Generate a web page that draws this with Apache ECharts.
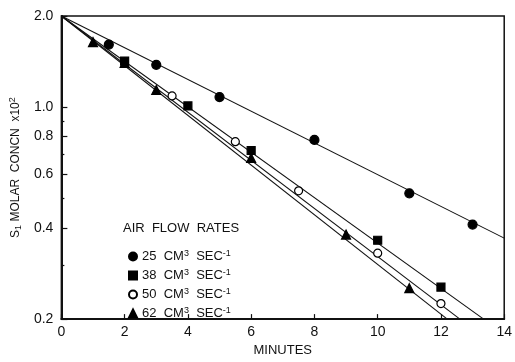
<!DOCTYPE html>
<html>
<head>
<meta charset="utf-8">
<script src="https://cdn.jsdelivr.net/npm/echarts@6.0.0/dist/echarts.min.js"></script>
<style>
  html, body { margin: 0; padding: 0; background: #fff; }
  #main { width: 515px; height: 362px; }
</style>
</head>
<body>
<div id="main"></div>
<script>
// air flow rates, cm3/sec
const rates = ['25', '38', '50', '62']

// measured points (minutes, molar concn x10^2)
const minutes25 = [1.5, 3, 5, 8, 11, 13]
const conc25 = [1.61, 1.38, 1.08, 0.78, 0.52, 0.41]
const minutes38 = [2, 4, 6, 10, 12]
const conc38 = [1.42, 1.01, 0.72, 0.364, 0.255]
const minutes50 = [3.5, 5.5, 7.5, 10, 12]
const conc50 = [1.09, 0.77, 0.53, 0.33, 0.225]
const minutes62 = [1, 2, 3, 6, 9, 11]
const conc62 = [1.64, 1.40, 1.14, 0.68, 0.38, 0.253]

// fitted lines, all start at t=0, c=2.0
const fitStart = [0, 2.0]
const fitEnd25 = [14, 0.37]
const fitEnd38 = [13.35, 0.2]
const fitEnd50 = [12.6, 0.2]
const fitEnd62 = [12.2, 0.2]

// axis ticks
const xTicks = [0, 2, 4, 6, 8, 10, 12, 14]
const yLabels = [0.2, 0.4, 0.6, 0.8, 1.0, 2.0]
const yMinorTicks = [0.3, 0.5, 0.7, 0.9]

const font = 'Liberation Sans'
const pairs = (xs, ys) => xs.map((x, i) => [x, ys[i]])

const markers = [
  {name: rates[0], x: minutes25, y: conc25, symbol: 'circle', size: 9, color: '#000', end: fitEnd25},
  {name: rates[1], x: minutes38, y: conc38, symbol: 'rect', size: 8, color: '#000', end: fitEnd38},
  {name: rates[2], x: minutes50, y: conc50, symbol: 'circle', size: 8, color: '#fff', end: fitEnd50},
  {name: rates[3], x: minutes62, y: conc62, symbol: 'triangle', size: 9, color: '#000', end: fitEnd62}
]

const series = []
markers.forEach(m => {
  series.push({
    type: 'line',
    data: [fitStart, m.end],
    symbol: 'none',
    silent: true,
    lineStyle: {color: '#111', width: 1.1},
    z: 2
  })
})
markers.forEach(m => {
  series.push({
    name: m.name,
    type: 'scatter',
    data: pairs(m.x, m.y),
    symbol: m.symbol,
    symbolSize: m.size,
    itemStyle: {color: m.color, borderColor: '#000', borderWidth: 1.2, opacity: 1},
    z: 3
  })
})

const chart = echarts.init(document.getElementById('main'))
chart.setOption({
  animation: false,
  backgroundColor: '#fff',
  textStyle: {fontFamily: font, color: '#111'},
  grid: {left: 61, right: 8, top: 16, bottom: 34, show: true, borderColor: '#111', borderWidth: 1.5},
  legend: {
    data: rates,
    orient: 'vertical',
    left: 123,
    top: 244,
    itemGap: 5,
    itemWidth: 8,
    itemHeight: 8,
    selectedMode: false,
    formatter: name => name + '  CM{sup|3}  SEC{sup|-1}',
    textStyle: {
      fontFamily: font, fontSize: 13, color: '#111',
      rich: {sup: {fontFamily: font, fontSize: 9, color: '#111', verticalAlign: 'top', padding: [0, 0, 6, 0]}}
    }
  },
  graphic: [{
    type: 'text',
    left: 123,
    top: 222,
    style: {text: 'AIR  FLOW  RATES', font: '13px "Liberation Sans"', fill: '#111'}
  }],
  xAxis: {
    type: 'value',
    min: 0,
    max: 14,
    interval: 2,
    name: 'MINUTES',
    nameLocation: 'middle',
    nameGap: 22,
    nameTextStyle: {fontFamily: font, fontSize: 13, color: '#111'},
    axisLine: {lineStyle: {color: '#111', width: 2}},
    axisTick: {inside: true, length: 5, lineStyle: {color: '#111', width: 1.2}, customValues: xTicks},
    axisLabel: {fontSize: 14, color: '#111', margin: 6, customValues: xTicks},
    splitLine: {show: false}
  },
  yAxis: [{
    type: 'log',
    logBase: 10,
    min: 0.2,
    max: 2.0,
    name: '{t|S}{sub|1}{t| MOLAR  CONCN  x10}{sup|2}',
    nameLocation: 'middle',
    nameRotate: 90,
    nameGap: 36,
    nameTextStyle: {
      fontFamily: font, fontSize: 12, color: '#111',
      rich: {
        t: {fontFamily: font, fontSize: 12, color: '#111'},
        sub: {fontFamily: font, fontSize: 9, color: '#111', verticalAlign: 'bottom', padding: [5, 0, 0, 0]},
        sup: {fontFamily: font, fontSize: 9, color: '#111', verticalAlign: 'top', padding: [0, 0, 6, 0]}
      }
    },
    axisLine: {lineStyle: {color: '#111', width: 2}},
    axisTick: {inside: true, length: 6, lineStyle: {color: '#111', width: 1.2}, customValues: yLabels},
    axisLabel: {fontSize: 14, color: '#111', margin: 8, customValues: yLabels, formatter: v => v.toFixed(1)},
    splitLine: {show: false},
    minorTick: {show: false}
  }, {
    type: 'log',
    logBase: 10,
    min: 0.2,
    max: 2.0,
    position: 'left',
    axisLine: {show: false},
    axisTick: {inside: true, length: 3, lineStyle: {color: '#111', width: 1.2}, customValues: yMinorTicks},
    axisLabel: {show: false},
    splitLine: {show: false}
  }],
  series: series
})
</script>
</body>
</html>
